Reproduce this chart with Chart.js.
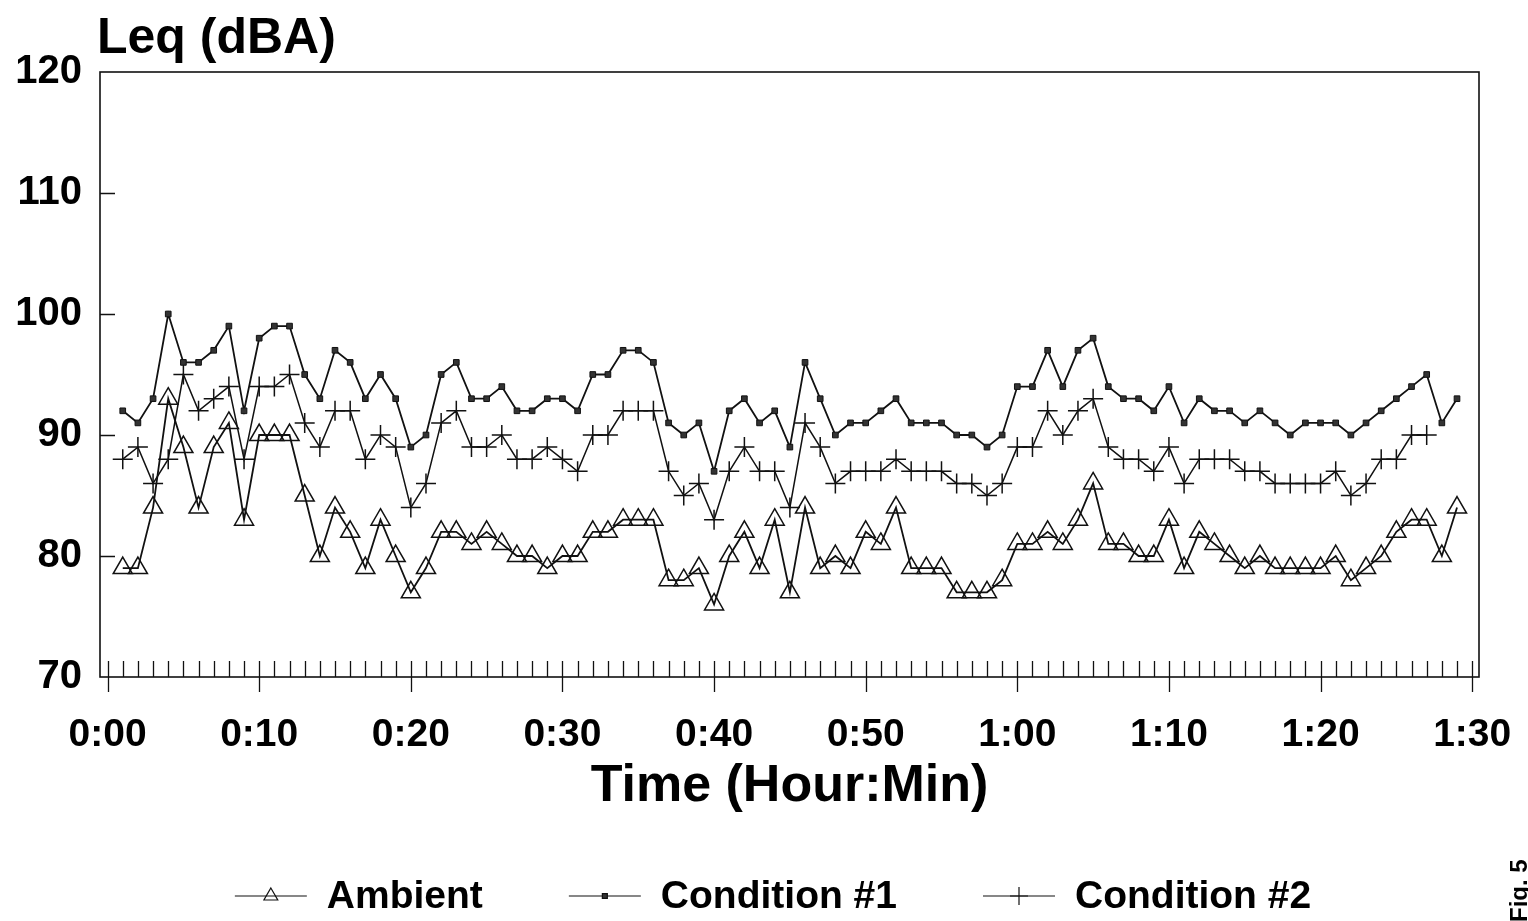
<!DOCTYPE html>
<html>
<head>
<meta charset="utf-8">
<title>Leq (dBA)</title>
<script src="https://cdn.jsdelivr.net/npm/chart.js@4.4.1/dist/chart.umd.min.js"></script>
<style>
  html, body { margin: 0; padding: 0; background: #fff; }
  canvas { display: block; }
</style>
</head>
<body>
<canvas id="leqChart" width="1528" height="921"></canvas>
<script>
// minutes after start (one reading per minute)
const minutes = Array.from({ length: 89 }, (_, i) => i + 1);

const ambient = [
  79, 79, 84, 93, 89, 84, 89, 91, 83, 90,
  90, 90, 85, 80, 84, 82, 79, 83, 80, 77,
  79, 82, 82, 81, 82, 81, 80, 80, 79, 80,
  80, 82, 82, 83, 83, 83, 78, 78, 79, 76,
  80, 82, 79, 83, 77, 84, 79, 80, 79, 82,
  81, 84, 79, 79, 79, 77, 77, 77, 78, 81,
  81, 82, 81, 83, 86, 81, 81, 80, 80, 83,
  79, 82, 81, 80, 79, 80, 79, 79, 79, 79,
  80, 78, 79, 80, 82, 83, 83, 80, 84
];

const condition1 = [
  92, 91, 93, 100, 96, 96, 97, 99, 92, 98,
  99, 99, 95, 93, 97, 96, 93, 95, 93, 89,
  90, 95, 96, 93, 93, 94, 92, 92, 93, 93,
  92, 95, 95, 97, 97, 96, 91, 90, 91, 87,
  92, 93, 91, 92, 89, 96, 93, 90, 91, 91,
  92, 93, 91, 91, 91, 90, 90, 89, 90, 94,
  94, 97, 94, 97, 98, 94, 93, 93, 92, 94,
  91, 93, 92, 92, 91, 92, 91, 90, 91, 91,
  91, 90, 91, 92, 93, 94, 95, 91, 93
];

const condition2 = [
  88, 89, 86, 88, 95, 92, 93, 94, 88, 94,
  94, 95, 91, 89, 92, 92, 88, 90, 89, 84,
  86, 91, 92, 89, 89, 90, 88, 88, 89, 88,
  87, 90, 90, 92, 92, 92, 87, 85, 86, 83,
  87, 89, 87, 87, 84, 91, 89, 86, 87, 87,
  87, 88, 87, 87, 87, 86, 86, 85, 86, 89,
  89, 92, 90, 92, 93, 89, 88, 88, 87, 89,
  86, 88, 88, 88, 87, 87, 86, 86, 86, 86,
  87, 85, 86, 88, 88, 90, 90, null, null
];

const xTickLabels = ['0:00', '0:10', '0:20', '0:30', '0:40', '0:50', '1:00', '1:10', '1:20', '1:30'];
const yTicks = [70, 80, 90, 100, 110, 120];

const FONT = '"Liberation Sans", Arial, Helvetica, sans-serif';
const INK = '#111';

const toPoints = values => values.map((v, i) => ({ x: minutes[i], y: v }));

// frame of the plot plus inward tick marks (long ones every 10 minutes)
const frameTicks = {
  id: 'frameTicks',
  beforeDatasetsDraw(chart) {
    const { ctx, chartArea: a, scales: { x, y } } = chart;
    ctx.save();
    ctx.strokeStyle = INK;
    ctx.lineWidth = 1.6;
    ctx.strokeRect(a.left, a.top, a.right - a.left, a.bottom - a.top);
    ctx.lineWidth = 1.3;
    ctx.beginPath();
    x.ticks.forEach(t => {
      const px = Math.round(x.getPixelForValue(t.value)) + 0.5;
      ctx.moveTo(px, a.bottom - 16);
      ctx.lineTo(px, a.bottom + (t.value % 10 === 0 ? 15 : 0));
    });
    y.ticks.forEach(t => {
      if (t.value <= y.min || t.value >= y.max) return;
      const py = Math.round(y.getPixelForValue(t.value)) + 0.5;
      ctx.moveTo(a.left, py);
      ctx.lineTo(a.left + 15, py);
    });
    ctx.stroke();
    ctx.restore();
  }
};

// y unit above the axis, legend row at the bottom, figure tag at the edge
const extraText = {
  id: 'extraText',
  afterDraw(chart) {
    const { ctx } = chart;
    ctx.save();
    ctx.fillStyle = '#000';
    ctx.font = `bold 50px ${FONT}`;
    ctx.textAlign = 'left';
    ctx.textBaseline = 'alphabetic';
    ctx.fillText('Leq (dBA)', 97, 53);

    const cy = 896, lineLen = 72, textGap = 20, itemGap = 86;
    ctx.font = `bold 39px ${FONT}`;
    const items = chart.data.datasets.map(ds => ({ ds, w: lineLen + textGap + ctx.measureText(ds.label).width }));
    const total = items.reduce((s, it) => s + it.w, 0) + itemGap * (items.length - 1);
    let x0 = 773 - total / 2;
    items.forEach(({ ds, w }) => {
      ctx.strokeStyle = INK;
      ctx.lineWidth = 1.2;
      ctx.beginPath();
      ctx.moveTo(x0, cy);
      ctx.lineTo(x0 + lineLen, cy);
      ctx.stroke();
      ctx.fillStyle = ds.pointBackgroundColor;
      Chart.helpers.drawPoint(ctx, {
        pointStyle: ds.pointStyle,
        radius: ds.legendRadius,
        borderWidth: 1.2,
        rotation: 0
      }, x0 + lineLen / 2, cy);
      ctx.fillStyle = '#000';
      ctx.textAlign = 'left';
      ctx.textBaseline = 'middle';
      ctx.fillText(ds.label, x0 + lineLen + textGap, cy + 1);
      x0 += w + itemGap;
    });

    ctx.translate(1527, 922);
    ctx.rotate(-Math.PI / 2);
    ctx.font = `bold 24px ${FONT}`;
    ctx.textBaseline = 'alphabetic';
    ctx.fillText('Fig. 5', 0, 0);
    ctx.restore();
  }
};

new Chart(document.getElementById('leqChart'), {
  type: 'line',
  data: {
    datasets: [
      {
        label: 'Ambient',
        data: toPoints(ambient),
        borderColor: INK,
        borderWidth: 1.8,
        pointStyle: 'triangle',
        pointRadius: 11,
        pointBorderWidth: 1.5,
        pointBorderColor: INK,
        pointBackgroundColor: 'rgba(255,255,255,0)',
        legendRadius: 8
      },
      {
        label: 'Condition #1',
        data: toPoints(condition1),
        borderColor: INK,
        borderWidth: 1.8,
        pointStyle: 'rect',
        pointRadius: 4,
        pointBorderWidth: 1,
        pointBorderColor: INK,
        pointBackgroundColor: '#333',
        legendRadius: 3.5
      },
      {
        label: 'Condition #2',
        data: toPoints(condition2),
        borderColor: INK,
        borderWidth: 1.5,
        pointStyle: 'cross',
        pointRadius: 10,
        pointBorderWidth: 1.5,
        pointBorderColor: INK,
        pointBackgroundColor: INK,
        legendRadius: 9,
        spanGaps: false
      }
    ]
  },
  options: {
    responsive: false,
    animation: false,
    layout: { padding: { top: 72, right: 49, bottom: 94, left: 0 } },
    scales: {
      x: {
        type: 'linear',
        min: -0.5,
        max: 90.45,
        grid: { display: false },
        border: { display: false },
        afterBuildTicks: scale => {
          scale.ticks = Array.from({ length: 91 }, (_, i) => ({ value: i }));
        },
        afterFit: scale => {
          scale.height = 150;
          scale.paddingLeft = 0;
          scale.paddingRight = 0;
        },
        ticks: {
          autoSkip: false,
          maxRotation: 0,
          padding: 27,
          color: '#000',
          font: { family: FONT, size: 39, weight: 'bold' },
          callback: v => (v % 10 === 0 ? xTickLabels[v / 10] : '')
        },
        title: {
          display: true,
          text: 'Time (Hour:Min)',
          color: '#000',
          font: { family: FONT, size: 52, weight: 'bold' },
          padding: { top: 0, bottom: 9 }
        }
      },
      y: {
        min: 70,
        max: 120,
        grid: { display: false },
        border: { display: false },
        afterBuildTicks: scale => {
          scale.ticks = yTicks.map(v => ({ value: v }));
        },
        afterFit: scale => {
          scale.width = 100;
          scale.paddingTop = 0;
          scale.paddingBottom = 0;
        },
        ticks: {
          padding: 10,
          color: '#000',
          font: { family: FONT, size: 40, weight: 'bold' }
        }
      }
    },
    plugins: {
      legend: { display: false },
      tooltip: { enabled: false }
    }
  },
  plugins: [frameTicks, extraText]
});
</script>
</body>
</html>
